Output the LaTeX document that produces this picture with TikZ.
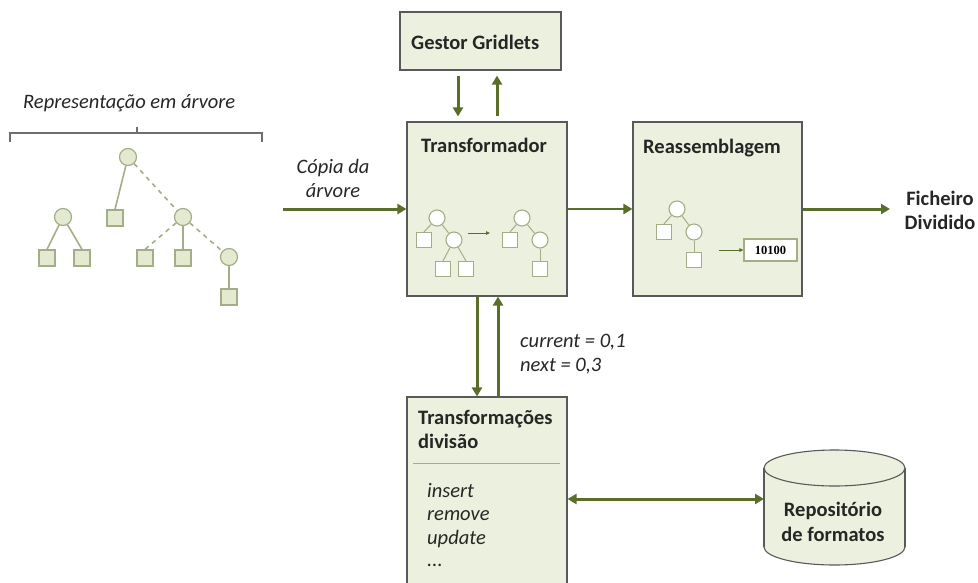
\documentclass[tikz,border=0pt]{standalone}
\usepackage{fontspec}
\setmainfont{Carlito}
\newfontfamily\numfont{Liberation Serif}
\usetikzlibrary{arrows.meta}
\definecolor{boxfill}{HTML}{EBF1DE}
\definecolor{boxline}{HTML}{595959}
\definecolor{arrowc}{HTML}{5A6E2A}
\definecolor{treeline}{HTML}{A3AE88}
\definecolor{treefill}{HTML}{E4EAD0}
\definecolor{sepline}{HTML}{9BBB59}
\definecolor{brack}{HTML}{6E6E6E}
\begin{document}
\begin{tikzpicture}[x=1pt,y=-1pt,
  box/.style={draw=boxline,fill=boxfill,line width=1.1pt,inner sep=0pt},
  ttl/.style={font=\fontsize{20.5}{24}\selectfont\bfseries,inner sep=0pt,text=black!85},
  itl/.style={font=\fontsize{20.5}{24}\selectfont\itshape,inner sep=0pt,text=black!85},
  arr/.style={draw=arrowc,line width=3pt,-{Triangle[length=9pt,width=10pt]}},
  dblarr/.style={draw=arrowc,line width=3pt,{Triangle[length=9pt,width=10pt]}-{Triangle[length=9pt,width=10pt]}},
  thinarr/.style={draw=arrowc,line width=0.8pt,-{Triangle[length=4pt,width=3.5pt]}},
  tc/.style={circle,draw=treeline,fill=treefill,line width=1.2pt,minimum size=17pt,inner sep=0pt},
  ts/.style={rectangle,draw=treeline,fill=treefill,line width=1.2pt,minimum size=16pt,inner sep=0pt},
  sc/.style={circle,draw=treeline,fill=white,line width=1.1pt,minimum size=16pt,inner sep=0pt},
  ss/.style={rectangle,draw=treeline,fill=white,line width=1.1pt,minimum size=15pt,inner sep=0pt},
  tedge/.style={draw=treeline,line width=1.6pt},
  tdash/.style={draw=treeline,line width=1.6pt,dash pattern=on 4.5pt off 4.5pt},
]
\useasboundingbox (0,0) rectangle (978,582);

% ---------- tree representation ----------
\node[itl,anchor=base west] (reptitle) at (23,108) {Representação em árvore};
\draw[brack,line width=1.2pt] (10,142) -- (10,133) -- (262,133) -- (262,142);
\draw[brack,line width=1.2pt] (137,133) -- (137,127);

\node[tc] (r) at (128,157) {};
\node[tc] (l1) at (63,217) {};
\node[ts] (s1) at (115,218) {};
\node[tc] (m) at (183,217) {};
\node[ts] (s2) at (47,258) {};
\node[ts] (s3) at (82,258) {};
\node[ts] (s4) at (145,258) {};
\node[ts] (s5) at (183,258) {};
\node[tc] (c) at (229,257) {};
\node[ts] (s6) at (229,297) {};
\draw[tedge] (r) -- (s1.north);
\draw[tdash] (r) -- (m);
\draw[tedge] (l1) -- (s2.north);
\draw[tedge] (l1) -- (s3.north);
\draw[tdash] (m) -- (s4.north);
\draw[tedge] (m) -- (s5.north);
\draw[tdash] (m) -- (c);
\draw[tedge] (c) -- (s6.north);

% ---------- boxes ----------
\node[box,minimum width=161pt,minimum height=58pt] (gestor) at (480.5,41) {};
\node[ttl,anchor=base west] (gestort) at (411,49) {Gestor Gridlets};

\node[box,minimum width=160pt,minimum height=174pt] (transf) at (487,209) {};
\node[ttl,anchor=base west] (transft) at (421,152) {Transformador};

\node[box,minimum width=169pt,minimum height=174pt] (reass) at (717.5,209) {};
\node[ttl,anchor=base west] (reasst) at (643,153) {Reassemblagem};

\node[box,minimum width=160pt,minimum height=188pt] (trdiv) at (487,491) {};
\node[ttl,anchor=base west] (trdivt1) at (418,424) {Transformações};
\node[ttl,anchor=base west] (trdivt2) at (418,448) {divisão};
\draw[sepline,line width=1pt] (413,463) -- (560,463);
\node[itl,anchor=base west] (op1) at (427,497) {insert};
\node[itl,anchor=base west] (op2) at (427,520) {remove};
\node[itl,anchor=base west] (op3) at (427,544) {update};
\node[itl,anchor=base west] (op4) at (427,566) {...};

% ---------- cylinder ----------
\filldraw[draw=boxline,fill=boxfill,line width=1.1pt] (834.5,547) ellipse [x radius=70.5pt, y radius=18pt];
\fill[boxfill] (764,468) rectangle (905,547);
\draw[boxline,line width=1.1pt] (764,468) -- (764,547) (905,468) -- (905,547);
\filldraw[draw=boxline,fill=boxfill,line width=1.1pt] (834.5,468) ellipse [x radius=70.5pt, y radius=18pt];
\node[inner sep=0pt,minimum width=141pt,minimum height=115pt] (cyl) at (834.5,507) {};
\node[ttl,anchor=base] (cylt1) at (833,516) {Repositório};
\node[ttl,anchor=base] (cylt2) at (833,541) {de formatos};

% ---------- small trees in Transformador ----------
\node[sc] (ta) at (437,218) {};
\node[ss] (tsa) at (424,240) {};
\node[sc] (tb) at (454,240) {};
\node[ss] (tsb) at (443,269) {};
\node[ss] (tsc) at (466,269) {};
\draw[tedge,line width=1pt] (ta) -- (tsa.north);
\draw[tedge,line width=1pt] (ta) -- (tb);
\draw[tedge,line width=1pt] (tb) -- (tsb.north);
\draw[tedge,line width=1pt] (tb) -- (tsc.north);
\coordinate (tarr1) at (468,233);
\coordinate (tarr2) at (490,233);
\draw[thinarr] (tarr1) -- (tarr2);
\node[sc] (ua) at (522,218) {};
\node[ss] (usa) at (510,240) {};
\node[sc] (ub) at (540,240) {};
\node[ss] (usb) at (540,269) {};
\draw[tedge,line width=1pt] (ua) -- (usa.north);
\draw[tedge,line width=1pt] (ua) -- (ub);
\draw[tedge,line width=1pt] (ub) -- (usb);

% ---------- small tree in Reassemblagem ----------
\node[sc] (va) at (677,209) {};
\node[ss] (vsa) at (664,232) {};
\node[sc] (vb) at (694,232) {};
\node[ss] (vsb) at (694,260) {};
\draw[tedge,line width=1pt] (va) -- (vsa.north);
\draw[tedge,line width=1pt] (va) -- (vb);
\draw[tedge,line width=1pt] (vb) -- (vsb);
\node[draw=treeline,fill=white,line width=1.1pt,minimum width=53pt,minimum height=22pt,inner sep=0pt,font=\numfont\fontsize{12.5}{14}\selectfont\bfseries] (bits) at (770.5,250) {10100};
\coordinate (varr) at (719,250);
\draw[thinarr] (varr) -- (bits.west);

% ---------- main arrows ----------
\draw[arr] ([xshift=-22.5pt,yshift=-5pt]gestor.south) -- ([xshift=-29pt,yshift=5pt]transf.north);
\draw[arr] ([xshift=10pt,yshift=5pt]transf.north) -- ([xshift=16.5pt,yshift=-5pt]gestor.south);

\coordinate (inp) at (283,209);
\draw[arr] (inp) -- (transf.west);
\node[itl,anchor=base] (copia1) at (333,173) {Cópia da};
\node[itl,anchor=base] (copia2) at (333,197) {árvore};

\draw[arr,line width=2.5pt] (transf.east) -- (reass.west);

\coordinate (outp) at (890,209);
\draw[arr] (reass.east) -- (outp);
\node[ttl,anchor=base] (fich1) at (940,205) {Ficheiro};
\node[ttl,anchor=base] (fich2) at (940,229) {Dividido};

\draw[arr] ([xshift=-10pt]transf.south) -- ([xshift=-10pt]trdiv.north);
\draw[arr] ([xshift=11pt]trdiv.north) -- ([xshift=11pt]transf.south);
\node[itl,anchor=base west] (cur) at (520,347) {current = 0,1};
\node[itl,anchor=base west] (nxt) at (520,371) {next = 0,3};

\coordinate (cylin) at (764,499);
\draw[dblarr] ([yshift=-8pt]trdiv.east) -- (cylin);
\end{tikzpicture}
\end{document}
